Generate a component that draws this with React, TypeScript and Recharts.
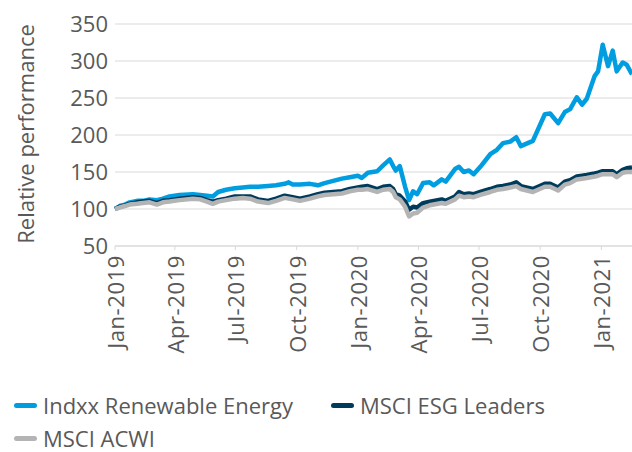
import { LineChart, Line, XAxis, YAxis, CartesianGrid, Label } from "recharts";

const dates = [
  "2019-01-01", "2019-01-08", "2019-01-16", "2019-01-23", "2019-02-03", "2019-02-12", "2019-02-22",
  "2019-03-05", "2019-03-14", "2019-03-24", "2019-04-08", "2019-04-28", "2019-05-09", "2019-05-19",
  "2019-05-28", "2019-06-05", "2019-06-17", "2019-06-30", "2019-07-12", "2019-07-23", "2019-08-04",
  "2019-08-19", "2019-08-31", "2019-09-13", "2019-09-19", "2019-09-25", "2019-10-06", "2019-10-21",
  "2019-11-02", "2019-11-12", "2019-11-25", "2019-12-08", "2019-12-20", "2020-01-01", "2020-01-07",
  "2020-01-16", "2020-01-30", "2020-02-08", "2020-02-18", "2020-02-23", "2020-02-27", "2020-03-04",
  "2020-03-12", "2020-03-18", "2020-03-24", "2020-03-30", "2020-04-08", "2020-04-18", "2020-04-24",
  "2020-05-06", "2020-05-12", "2020-05-26", "2020-06-01", "2020-06-08", "2020-06-16", "2020-06-23",
  "2020-07-03", "2020-07-18", "2020-07-28", "2020-08-06", "2020-08-17", "2020-08-26", "2020-09-02",
  "2020-09-20", "2020-10-08", "2020-10-16", "2020-10-28", "2020-11-07", "2020-11-15", "2020-11-25",
  "2020-12-03", "2020-12-10", "2020-12-22", "2020-12-27", "2021-01-03", "2021-01-11", "2021-01-18",
  "2021-01-24", "2021-02-02", "2021-02-08", "2021-02-16",
];

const renewable = [
  100, 104, 106, 109, 111, 111, 113,
  112, 114, 117, 119, 120, 119, 118,
  117, 123, 126, 128, 129, 130, 130,
  131, 132, 134, 136, 133, 133, 134,
  132, 135, 138, 141, 143, 145, 142,
  149, 151, 159, 167, 158, 152, 158,
  130, 112, 124, 120, 135, 136, 132,
  140, 137, 154, 157, 150, 152, 147,
  157, 174, 180, 189, 191, 197, 185,
  192, 228, 229, 216, 231, 235, 251,
  241, 249, 280, 286, 322, 293, 314,
  286, 298, 295, 282,
];

const esgLeaders = [
  100, 103, 105, 107, 109, 110, 111,
  108, 111, 112, 114, 116, 115, 112,
  110, 112, 114, 117, 117, 117, 113,
  111, 114, 118, 117, 116, 114, 117,
  120, 122, 123, 124, 127, 129, 130,
  131, 127, 130, 131, 127, 120, 118,
  110, 99, 103, 102, 108, 110, 111,
  113, 111, 117, 123, 120, 121, 120,
  123, 127, 130, 131, 133, 136, 131,
  127, 134, 134, 129, 137, 139, 144,
  145, 146, 148, 149, 151, 151, 151,
  147, 153, 155, 156,
];

const acwi = [
  100, 102, 104, 106, 107, 108, 109,
  106, 109, 110, 112, 114, 113, 110,
  107, 110, 112, 114, 115, 114, 110,
  108, 111, 115, 114, 113, 111, 114,
  117, 119, 120, 121, 124, 126, 126,
  127, 123, 126, 127, 123, 116, 113,
  103, 90, 94, 95, 102, 105, 106,
  108, 107, 113, 118, 116, 117, 116,
  119, 123, 126, 127, 129, 131, 127,
  123, 130, 130, 125, 133, 135, 140,
  141, 142, 144, 145, 147, 147, 147,
  143, 149, 150, 150,
];

const xTicks = [
  "2019-01-01", "2019-04-01", "2019-07-01", "2019-10-01", "2020-01-01",
  "2020-04-01", "2020-07-01", "2020-10-01", "2021-01-01",
];
const yTicks = [50, 100, 150, 200, 250, 300, 350];
const monthNames = ["Jan", "Feb", "Mar", "Apr", "May", "Jun", "Jul", "Aug", "Sep", "Oct", "Nov", "Dec"];

const series = [
  { key: "renewable", name: "Indxx Renewable Energy", color: "#009EE0" },
  { key: "esg", name: "MSCI ESG Leaders", color: "#003B5C" },
  { key: "acwi", name: "MSCI ACWI", color: "#B4B4B4" },
];

const toTime = (s: string) => Date.parse(s + "T00:00:00Z");

const data = dates.map((d, i) => ({
  t: toTime(d),
  renewable: renewable[i],
  esg: esgLeaders[i],
  acwi: acwi[i],
}));

const FONT = "'Open Sans', 'Noto Sans', sans-serif";
const TEXT = "#595959";

const formatTick = (t: number) => {
  const d = new Date(t);
  return `${monthNames[d.getUTCMonth()]}-${d.getUTCFullYear()}`;
};

function XTick({ x, y, payload }: any) {
  return (
    <text
      x={x}
      y={y}
      transform={`rotate(-90, ${x}, ${y})`}
      textAnchor="end"
      dominantBaseline="central"
      fill={TEXT}
      fontSize={22}
      letterSpacing={0.6}
      fontFamily={FONT}
    >
      {formatTick(payload.value)}
    </text>
  );
}

function YTitle({ viewBox }: any) {
  const cx = viewBox.x + 25;
  const cy = viewBox.y + viewBox.height / 2 - 1;
  return (
    <text
      x={cx}
      y={cy}
      transform={`rotate(-90, ${cx}, ${cy})`}
      textAnchor="middle"
      dominantBaseline="central"
      fill={TEXT}
      fontSize={22}
      fontFamily={FONT}
    >
      Relative performance
    </text>
  );
}

export default function App() {
  return (
    <div style={{ position: "relative", width: 632, height: 452, background: "#fff" }}>
      <style>{"body{margin:0}"}</style>
      <LineChart width={632} height={452} data={data} margin={{ top: 24, right: 0, left: 0, bottom: 95 }}>
        <CartesianGrid horizontal vertical={false} stroke="#e6e6e6" strokeWidth={1.5} />
        <XAxis
          dataKey="t"
          type="number"
          scale="time"
          domain={[toTime("2019-01-01"), toTime("2021-02-16")]}
          ticks={xTicks.map(toTime)}
          tick={<XTick />}
          height={111}
          tickSize={4}
          tickMargin={5}
          stroke="#d9d9d9"
          interval={0}
        />
        <YAxis
          domain={[50, 350]}
          ticks={yTicks}
          width={115}
          axisLine={false}
          tickLine={false}
          tickMargin={1}
          interval={0}
          tick={{ fill: TEXT, fontSize: 22, fontFamily: FONT }}
        >
          <Label content={<YTitle />} />
        </YAxis>
        {series.map((s) => (
          <Line
            key={s.key}
            type="linear"
            dataKey={s.key}
            name={s.name}
            stroke={s.color}
            strokeWidth={4.5}
            strokeLinejoin="round"
            dot={false}
            isAnimationActive={false}
          />
        ))}
      </LineChart>
      <div
        style={{
          position: "absolute",
          left: 14,
          top: 395,
          width: 600,
          display: "flex",
          flexWrap: "wrap",
          rowGap: 13,
          fontFamily: FONT,
          fontSize: 22,
          color: TEXT,
          lineHeight: "20px",
        }}
      >
        {series.map((s) => (
          <div key={s.key} style={{ display: "flex", alignItems: "center", marginRight: 38, height: 20 }}>
            <span
              style={{ width: 23, height: 5, borderRadius: 3, background: s.color, marginRight: 6, display: "inline-block" }}
            />
            <span>{s.name}</span>
          </div>
        ))}
      </div>
    </div>
  );
}
